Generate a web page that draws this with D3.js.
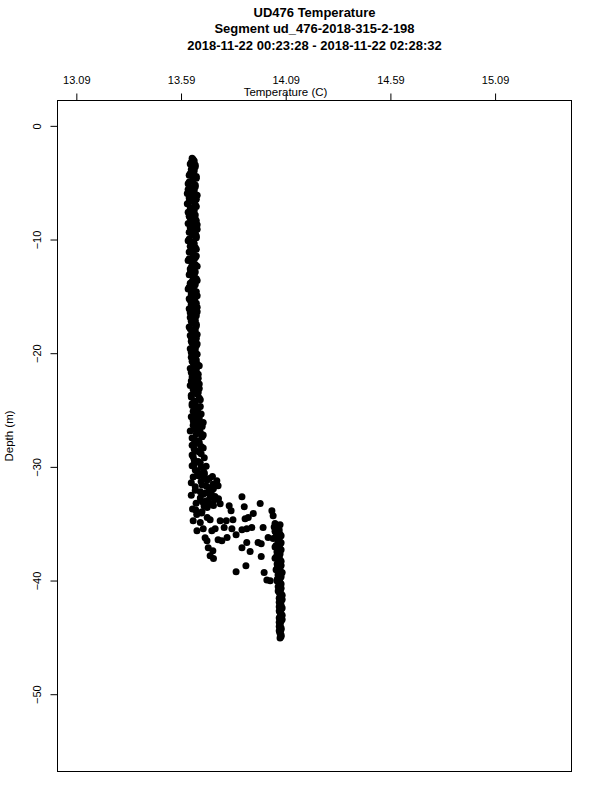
<!DOCTYPE html>
<html>
<head>
<meta charset="utf-8">
<script src="https://cdn.jsdelivr.net/npm/d3@7"></script>
<style>
  body { margin: 0; background: #fff; }
  text { font-family: "Liberation Sans", Arial, Helvetica, sans-serif; fill: #000; }
</style>
</head>
<body>
<div class="chart"></div>
<script>
var titleLines = [
  "UD476 Temperature",
  "Segment ud_476-2018-315-2-198",
  "2018-11-22 00:23:28 - 2018-11-22 02:28:32"
];
var temperatureTicks = [13.09, 13.59, 14.09, 14.59, 15.09];
var depthTicks = [0, -10, -20, -30, -40, -50];

// upper mixed layer, down cast
var upperDepth = [
  -2.85, -3.10, -3.35, -3.60, -3.85, -4.10, -4.35, -4.60, -4.85, -5.10,
  -5.35, -5.60, -5.85, -6.10, -6.35, -6.60, -6.85, -7.10, -7.35, -7.60,
  -7.85, -8.10, -8.35, -8.60, -8.85, -9.10, -9.35, -9.60, -9.85, -10.10,
  -10.35, -10.60, -10.85, -11.10, -11.35, -11.60, -11.85, -12.10, -12.35, -12.60,
  -12.85, -13.10, -13.35, -13.60, -13.85, -14.10, -14.35, -14.60, -14.85, -15.10,
  -15.35, -15.60, -15.85, -16.10, -16.35, -16.60, -16.85, -17.10, -17.35, -17.60,
  -17.85, -18.10, -18.35, -18.60, -18.85, -19.10, -19.35, -19.60, -19.85, -20.10,
  -20.35, -20.60, -20.85, -21.10, -21.35, -21.60, -21.85, -22.10, -22.35, -22.60,
  -22.85, -23.10, -23.35, -23.60, -23.85, -24.10, -24.35, -24.60, -24.85, -25.10,
  -25.35, -25.60, -25.85, -26.10, -26.35, -26.60, -26.85, -27.10, -27.35, -27.60,
  -27.85, -28.10, -28.35, -28.60, -28.85, -29.10
];
var upperTemp = [
  13.643, 13.653, 13.634, 13.658, 13.639, 13.648, 13.629, 13.663, 13.643, 13.624,
  13.658, 13.624, 13.648, 13.667, 13.629, 13.653, 13.620, 13.663, 13.639, 13.624,
  13.658, 13.634, 13.663, 13.624, 13.648, 13.667, 13.629, 13.643, 13.663, 13.624,
  13.653, 13.634, 13.663, 13.629, 13.648, 13.658, 13.624, 13.643, 13.667, 13.634,
  13.658, 13.629, 13.648, 13.667, 13.634, 13.653, 13.624, 13.663, 13.639, 13.658,
  13.634, 13.663, 13.643, 13.629, 13.667, 13.648, 13.634, 13.658, 13.643, 13.663,
  13.634, 13.653, 13.667, 13.639, 13.658, 13.643, 13.663, 13.634, 13.653, 13.667,
  13.639, 13.663, 13.648, 13.677, 13.634, 13.658, 13.672, 13.643, 13.667, 13.653,
  13.634, 13.677, 13.653, 13.667, 13.639, 13.682, 13.658, 13.643, 13.672, 13.648,
  13.686, 13.639, 13.667, 13.696, 13.648, 13.677, 13.634, 13.663, 13.691, 13.653,
  13.677, 13.643, 13.696, 13.663, 13.686, 13.648
];

// upper mixed layer, up cast
var upperDepth2 = [
  -2.95, -3.20, -3.45, -3.70, -3.95, -4.20, -4.45, -4.70, -4.95, -5.20,
  -5.45, -5.70, -5.95, -6.20, -6.45, -6.70, -6.95, -7.20, -7.45, -7.70,
  -7.95, -8.20, -8.45, -8.70, -8.95, -9.20, -9.45, -9.70, -9.95, -10.20,
  -10.45, -10.70, -10.95, -11.20, -11.45, -11.70, -11.95, -12.20, -12.45, -12.70,
  -12.95, -13.20, -13.45, -13.70, -13.95, -14.20, -14.45, -14.70, -14.95, -15.20,
  -15.45, -15.70, -15.95, -16.20, -16.45, -16.70, -16.95, -17.20, -17.45, -17.70,
  -17.95, -18.20, -18.45, -18.70, -18.95, -19.20, -19.45, -19.70, -19.95, -20.20,
  -20.45, -20.70, -20.95, -21.20, -21.45, -21.70, -21.95, -22.20, -22.45, -22.70,
  -22.95, -23.20, -23.45, -23.70, -23.95, -24.20, -24.45, -24.70, -24.95, -25.20,
  -25.45, -25.70, -25.95, -26.20, -26.45, -26.70, -26.95, -27.20, -27.45, -27.70,
  -27.95, -28.20, -28.45, -28.70, -28.95, -29.20
];
var upperTemp2 = [
  13.648, 13.639, 13.658, 13.643, 13.653, 13.634, 13.663, 13.648, 13.629, 13.658,
  13.634, 13.653, 13.620, 13.643, 13.663, 13.629, 13.658, 13.634, 13.653, 13.643,
  13.629, 13.658, 13.643, 13.667, 13.634, 13.643, 13.658, 13.663, 13.629, 13.648,
  13.639, 13.658, 13.643, 13.648, 13.663, 13.629, 13.648, 13.658, 13.639, 13.653,
  13.634, 13.653, 13.663, 13.643, 13.658, 13.629, 13.648, 13.639, 13.667, 13.629,
  13.653, 13.639, 13.667, 13.658, 13.634, 13.663, 13.648, 13.639, 13.663, 13.629,
  13.658, 13.643, 13.634, 13.663, 13.639, 13.667, 13.648, 13.658, 13.639, 13.648,
  13.658, 13.643, 13.667, 13.653, 13.663, 13.639, 13.648, 13.672, 13.639, 13.677,
  13.663, 13.648, 13.672, 13.639, 13.677, 13.653, 13.643, 13.682, 13.658, 13.667,
  13.663, 13.677, 13.648, 13.672, 13.691, 13.658, 13.682, 13.696, 13.643, 13.672,
  13.663, 13.686, 13.653, 13.677, 13.643, 13.701
];

// thermocline, scattered readings
var mixDepth = [
  -29.40, -29.65, -29.90, -30.15, -30.40, -30.65, -30.90, -31.15, -31.40, -31.60,
  -31.85, -32.05, -32.30, -32.50, -32.75, -32.95, -33.20, -33.45, -33.70, -33.95,
  -34.20, -34.45, -31.90, -32.30, -32.90, -33.30, -32.80, -33.25,
  -29.52, -29.78, -30.02, -30.28, -30.52, -30.78, -31.02, -31.28, -31.52, -31.75,
  -32.18, -32.62, -33.08, -33.58, -34.05,
  -30.85, -31.05, -31.45, -31.70, -32.00, -32.40, -32.60, -33.00, -33.40, -33.80,
  -29.95, -30.60,
  -31.22, -31.66, -32.63, -33.22, -33.51, -33.42, -33.86, -33.86, -34.30, -34.10,
  -34.45, -34.57, -34.66, -34.74, -34.74, -34.74, -34.89, -34.66, -34.98, -35.10,
  -35.33, -35.33, -35.45, -35.54, -35.45, -35.33, -35.45, -35.63, -35.45, -35.63,
  -35.98, -36.21, -36.42, -36.51, -36.24, -36.51, -36.65, -36.65, -36.21, -36.21,
  -36.77, -37.12, -37.39, -37.12, -37.45, -37.83, -38.06, -37.89, -38.71, -39.23,
  -39.30, -39.96, -40.03
];
var mixTemp = [
  13.653, 13.682, 13.643, 13.696, 13.667, 13.701, 13.648, 13.715, 13.639, 13.691,
  13.725, 13.658, 13.706, 13.639, 13.682, 13.720, 13.662, 13.700, 13.645, 13.690,
  13.665, 13.715, 13.745, 13.733, 13.750, 13.730, 13.769, 13.777,
  13.672, 13.653, 13.686, 13.658, 13.701, 13.672, 13.725, 13.686, 13.743, 13.658,
  13.682, 13.730, 13.692, 13.715, 13.688,
  13.740, 13.700, 13.760, 13.712, 13.740, 13.695, 13.752, 13.710, 13.745, 13.660,
  13.710, 13.690,
  13.761, 13.767, 13.881, 13.968, 13.892, 13.820, 13.829, 14.024, 14.030, 13.935,
  13.911, 13.896, 13.838, 13.806, 13.777, 13.648, 13.682, 13.729, 14.039, 14.063,
  13.982, 13.928, 13.904, 13.881, 13.833, 13.796, 13.753, 13.737, 13.696, 13.666,
  13.853, 13.810, 13.767, 13.785, 13.705, 13.714, 13.904, 13.958, 14.006, 14.054,
  13.973, 13.720, 13.742, 13.881, 13.920, 13.729, 13.745, 13.973, 13.900, 13.853,
  13.987, 14.000, 14.016
];

// bottom layer, two casts
var lowerDepth = [
  -35.30, -35.55, -35.80, -36.05, -36.30, -36.55, -36.80, -37.05, -37.30, -37.55,
  -37.80, -38.05, -38.30, -38.55, -38.80, -39.05, -39.30, -39.55, -39.80, -40.05,
  -40.30, -40.55, -40.80, -41.05, -41.30, -41.55, -41.80, -42.05, -42.30, -42.55,
  -42.80, -43.05, -43.30, -43.55, -43.80, -44.05, -44.30, -44.55, -44.80, -45.05
];
var lowerTemp = [
  14.035, 14.059, 14.044, 14.068, 14.030, 14.054, 14.063, 14.039, 14.068, 14.049,
  14.059, 14.039, 14.068, 14.049, 14.063, 14.044, 14.073, 14.054, 14.063, 14.049,
  14.068, 14.054, 14.063, 14.059, 14.073, 14.059, 14.068, 14.063, 14.059, 14.068,
  14.063, 14.073, 14.059, 14.068, 14.063, 14.059, 14.068, 14.063, 14.068, 14.063
];
var lowerDepth2 = [
  -35.42, -35.67, -35.92, -36.17, -36.42, -36.67, -36.92, -37.17, -37.42, -37.67,
  -37.92, -38.17, -38.42, -38.67, -38.92, -39.17, -39.42, -39.67, -39.92, -40.17,
  -40.42, -40.67, -40.92, -41.17, -41.42, -41.67, -41.92, -42.17, -42.42, -42.67,
  -42.92, -43.17, -43.42, -43.67, -43.92, -44.17, -44.42, -44.67, -44.92
];
var lowerTemp2 = [
  14.049, 14.039, 14.063, 14.044, 14.059, 14.068, 14.044, 14.059, 14.049, 14.063,
  14.044, 14.063, 14.054, 14.068, 14.049, 14.063, 14.054, 14.068, 14.049, 14.063,
  14.059, 14.068, 14.054, 14.068, 14.063, 14.073, 14.059, 14.068, 14.073, 14.059,
  14.068, 14.063, 14.073, 14.059, 14.063, 14.068, 14.059, 14.063, 14.068
];

var svgWidth = 600;
var svgHeight = 800;
var box = { left: 57.5, right: 571.5, top: 100.5, bottom: 771.5 };

var svg = d3.select('.chart')
  .append('svg')
  .attr('width', svgWidth)
  .attr('height', svgHeight);

var xScale = d3.scaleLinear().domain([13.0, 15.455]).range([box.left, box.right]);
var yScale = d3.scaleLinear().domain([2.23, -56.8]).range([box.top, box.bottom]);

// collect points
var points = [];
function addPoints(depths, temps) {
  depths.forEach(function(d, i) {
    points.push({ depth: d, temp: temps[i] });
  });
}
addPoints(upperDepth, upperTemp);
addPoints(upperDepth2, upperTemp2);
addPoints(mixDepth, mixTemp);
addPoints(lowerDepth, lowerTemp);
addPoints(lowerDepth2, lowerTemp2);

svg.append('g')
  .selectAll('circle')
  .data(points)
  .enter()
  .append('circle')
  .attr('cx', function(d) { return xScale(d.temp); })
  .attr('cy', function(d) { return yScale(d.depth); })
  .attr('r', 3.5)
  .attr('fill', '#000');

// plot box
svg.append('rect')
  .attr('x', box.left)
  .attr('y', box.top)
  .attr('width', box.right - box.left)
  .attr('height', box.bottom - box.top)
  .attr('fill', 'none')
  .attr('stroke', '#000')
  .attr('stroke-width', 1);

// top axis
var topAxis = d3.axisTop(xScale)
  .tickValues(temperatureTicks)
  .tickFormat(d3.format('.2f'))
  .tickSize(7)
  .tickSizeOuter(0)
  .tickPadding(10);

var gx = svg.append('g')
  .attr('transform', 'translate(0,' + box.top + ')')
  .call(topAxis);
gx.select('.domain').remove();
gx.selectAll('line').attr('stroke', '#000');
gx.selectAll('text')
  .attr('font-size', 11)
  .attr('font-family', '"Liberation Sans", Arial, sans-serif')
  .attr('fill', '#000');

// left axis
var leftAxis = d3.axisLeft(yScale)
  .tickValues(depthTicks)
  .tickFormat(d3.format('d'))
  .tickSize(7)
  .tickSizeOuter(0);

var gy = svg.append('g')
  .attr('transform', 'translate(' + box.left + ',0)')
  .call(leftAxis);
gy.select('.domain').remove();
gy.selectAll('line').attr('stroke', '#000');
gy.selectAll('text')
  .attr('x', null)
  .attr('dy', null)
  .attr('text-anchor', 'middle')
  .attr('transform', 'translate(-17,0) rotate(-90)')
  .attr('font-size', 11)
  .attr('font-family', '"Liberation Sans", Arial, sans-serif')
  .attr('fill', '#000');

// axis titles
svg.append('text')
  .attr('x', 285.5)
  .attr('y', 95.5)
  .attr('text-anchor', 'middle')
  .attr('font-size', 11.5)
  .text('Temperature (C)');

svg.append('text')
  .attr('transform', 'translate(13,' + ((box.top + box.bottom) / 2) + ') rotate(-90)')
  .attr('text-anchor', 'middle')
  .attr('font-size', 11.5)
  .text('Depth (m)');

// main title
var titleBaselines = [17, 33, 49.5];
svg.append('g')
  .selectAll('text')
  .data(titleLines)
  .enter()
  .append('text')
  .attr('x', (box.left + box.right) / 2)
  .attr('y', function(d, i) { return titleBaselines[i]; })
  .attr('text-anchor', 'middle')
  .attr('font-size', 13)
  .attr('font-weight', 'bold')
  .text(function(d) { return d; });
</script>
</body>
</html>
